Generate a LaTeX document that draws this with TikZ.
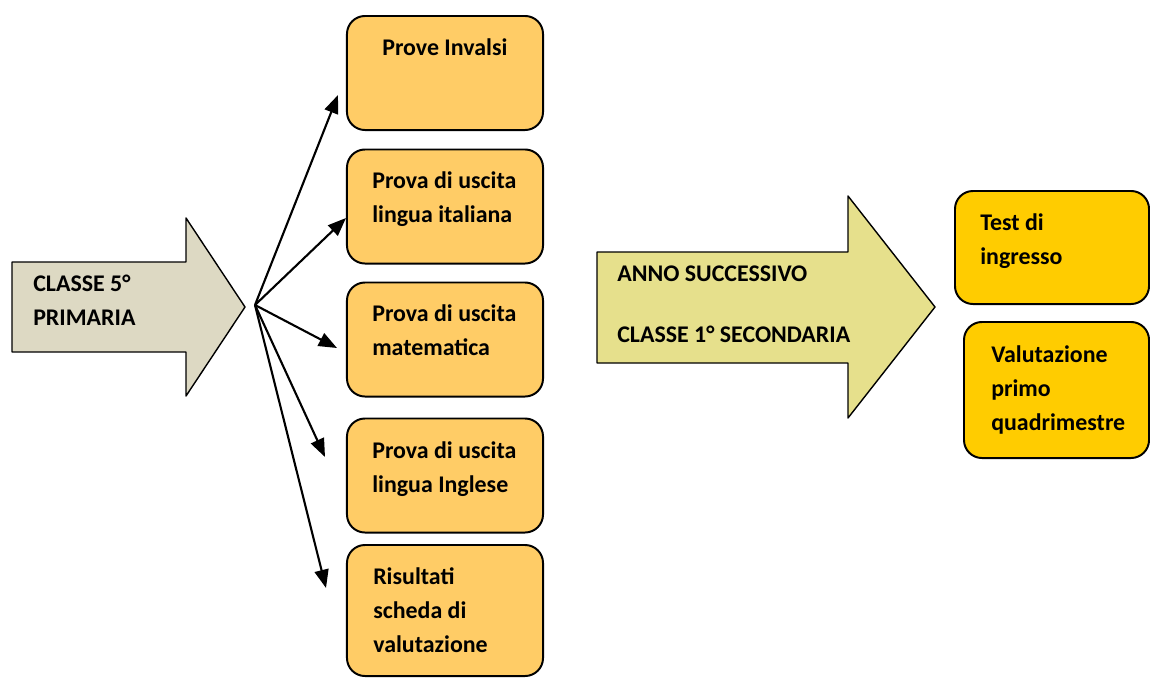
\documentclass[tikz,border=0pt]{standalone}
\usepackage{fontspec}
\setmainfont{Carlito}
\usetikzlibrary{arrows.meta}
\definecolor{beige}{HTML}{DDD9C3}
\definecolor{khaki}{HTML}{E6E08C}
\definecolor{lightorange}{HTML}{FFCC66}
\definecolor{gold}{HTML}{FFCC00}

\begin{document}
\begin{tikzpicture}[x=0.025cm,y=-0.025cm,line join=round]
% Styles
\tikzstyle{information text}=[anchor=base west,inner sep=0pt,align=left,font=\fontsize{17}{24}\selectfont\bfseries]
\tikzstyle{prova}=[draw,line width=1.4pt,rounded corners=0.45cm,fill=lightorange,minimum width=4.9cm,minimum height=2.85cm,inner sep=0pt]
\tikzstyle{esito}=[draw,line width=1.4pt,rounded corners=0.45cm,fill=gold,inner sep=0pt]
\tikzstyle{freccia}=[line width=1.5pt,-{Triangle[length=13pt,width=10pt]}]

\useasboundingbox (0,0) rectangle (1150,677);
\clip (0,0) rectangle (1150,677);

% big arrows
\draw[fill=beige,line width=1pt] (12,262) -- (186,262) -- (186,218) -- (245,307) -- (186,396) -- (186,352) -- (12,352) -- cycle;
\draw[fill=khaki,line width=1pt] (597,252) -- (848,252) -- (848,196) -- (935,307) -- (848,418) -- (848,363) -- (597,363) -- cycle;

% draw the boxes
\foreach \i/\y in {1/73,2/206.5,3/339.5,4/475.5} {
\node[prova] (b\i) at (445,\y) {};
}
\node[prova,minimum height=3.275cm] (b5) at (445,610.5) {};
\node[esito,minimum width=4.85cm,minimum height=2.825cm] (r1) at (1052,247.5) {};
\node[esito,minimum width=4.625cm,minimum height=3.4cm] (r2) at (1056.5,390) {};

% fan of arrows
\coordinate (fan) at (255,305);
\coordinate (t1) at (338,95);
\coordinate (t2) at (346,218);
\coordinate (t3) at (337,348);
\coordinate (t4) at (325,457);
\coordinate (t5) at (326,588);
\foreach \i in {1,...,5} {
\draw[freccia] (fan) -- (t\i);
}

% texts (base = last line)
\node[information text] (c5) at (33,325) {CLASSE 5°\\PRIMARIA};
\node[information text] (c1) at (617,342) {ANNO SUCCESSIVO\\[19pt]CLASSE 1° SECONDARIA};
\node[information text] (p1) at (382,55) {Prove Invalsi};
\node[information text] (p2) at (372,222) {Prova di uscita\\lingua italiana};
\node[information text] (p3) at (372,355) {Prova di uscita\\matematica};
\node[information text] (p4) at (372,492) {Prova di uscita\\lingua Inglese};
\node[information text] (p5) at (373,652) {Risultati\\scheda di\\valutazione};
\node[information text] (e1) at (980,264) {Test di\\ingresso};
\node[information text] (e2) at (991,430) {Valutazione\\primo\\quadrimestre};

\end{tikzpicture}
\end{document}
